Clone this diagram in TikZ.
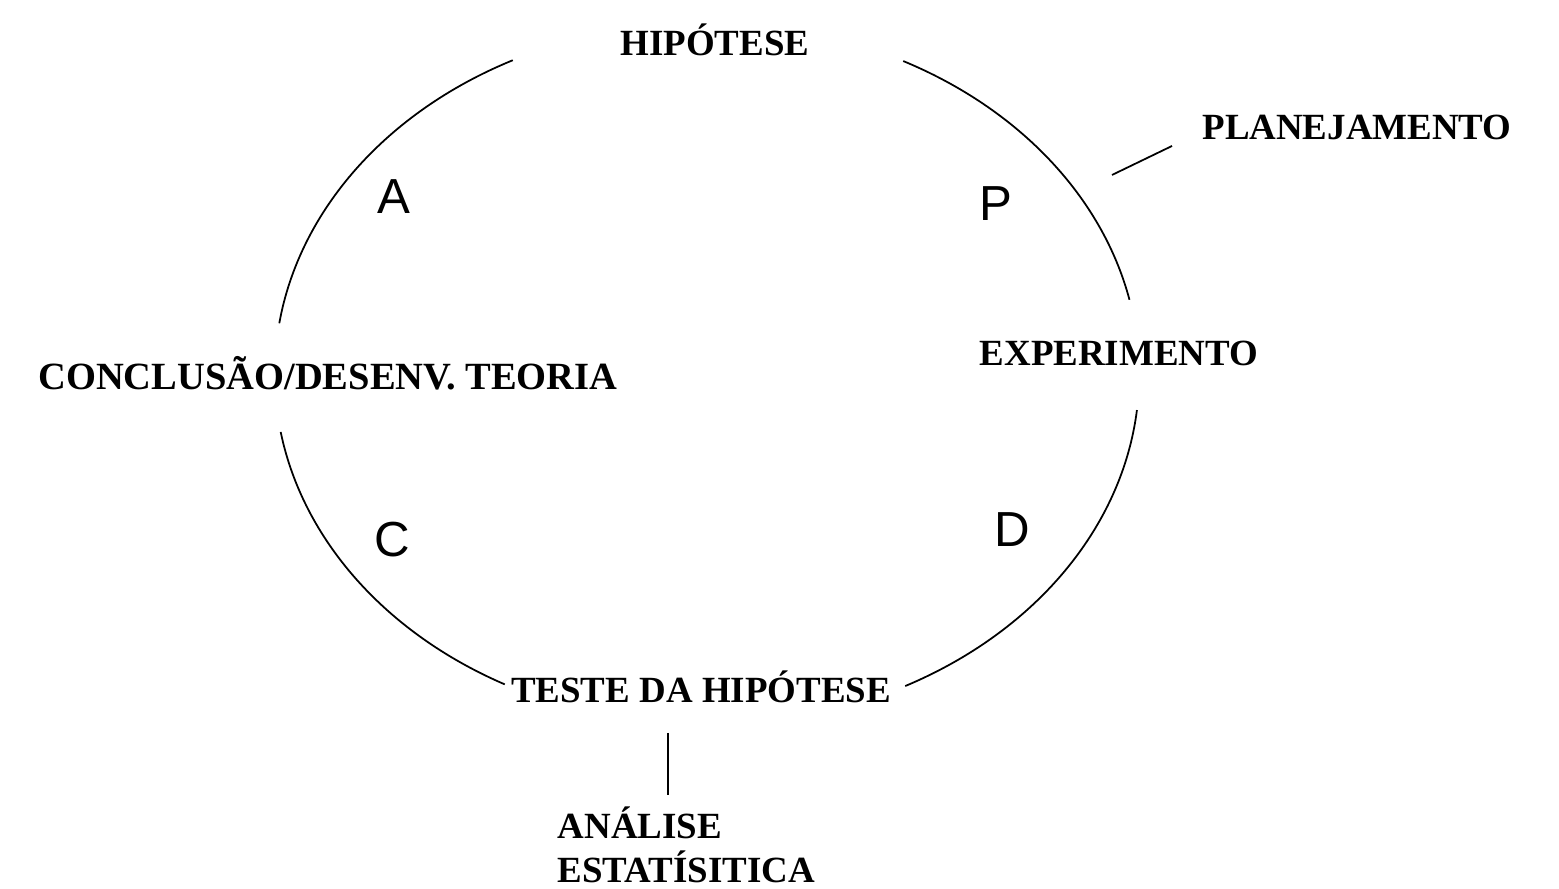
\documentclass[tikz,border=0pt]{standalone}
\usepackage{fontspec}
\setmainfont{Liberation Serif}
\newfontfamily\arialf{Liberation Sans}
\usetikzlibrary{calc}
\begin{document}
\begin{tikzpicture}[x=0.01cm,y=0.01cm,
  lbl/.style={font=\fontsize{10.5}{13}\selectfont\bfseries, inner sep=0pt},
  letter/.style={font=\arialf\fontsize{14}{16}\selectfont, inner sep=0pt},
  cyc/.style={line width=0.5pt},
  lead/.style={line width=0.5pt}]
\useasboundingbox (0,0) rectangle (1559,889);
\coordinate (c) at (707,515);
% labels
\node[lbl] (hip) at (715,849) {HIPÓTESE};
\node[lbl] (plan) at (1357,762) {PLANEJAMENTO};
\node[lbl] (exp) at (1119,536) {EXPERIMENTO};
\node[lbl, font=\fontsize{10.95}{13}\selectfont\bfseries] (conc) at (328,516) {CONCLUSÃO/DESENV. TEORIA};
\node[lbl] (teste) at (701,202) {TESTE DA HIPÓTESE};
\node[lbl, anchor=base west, align=left, font=\fontsize{10.5}{12.6}\selectfont\bfseries] (ana) at (557,6) {ANÁLISE\\ESTATÍSITICA};
% letters
\node[letter] (A) at (394,692) {A};
\node[letter] (P) at (996,685) {P};
\node[letter] (C) at (392,349) {C};
\node[letter] (D) at (1012,359) {D};
% cycle arcs
\draw[cyc] ($(c)+(116.7:4.32cm and 3.51cm)$) arc[start angle=116.7, end angle=171.7, x radius=4.32cm, y radius=3.51cm];
\draw[cyc] ($(c)+(189.5:4.32cm and 3.51cm)$) arc[start angle=189.5, end angle=242.1, x radius=4.32cm, y radius=3.51cm];
\draw[cyc] ($(c)+(-62.7:4.32cm and 3.51cm)$) arc[start angle=-62.7, end angle=-5.9, x radius=4.32cm, y radius=3.51cm];
\draw[cyc] ($(c)+(12.2:4.32cm and 3.51cm)$) arc[start angle=12.2, end angle=63, x radius=4.32cm, y radius=3.51cm];
% leader lines
\coordinate (pl1) at (1112,714);
\coordinate (pl2) at (1172,743);
\draw[lead] (pl1) -- (pl2);
\coordinate (an1) at (668,156);
\coordinate (an2) at (668,94);
\draw[lead] (an1) -- (an2);
\end{tikzpicture}
\end{document}
